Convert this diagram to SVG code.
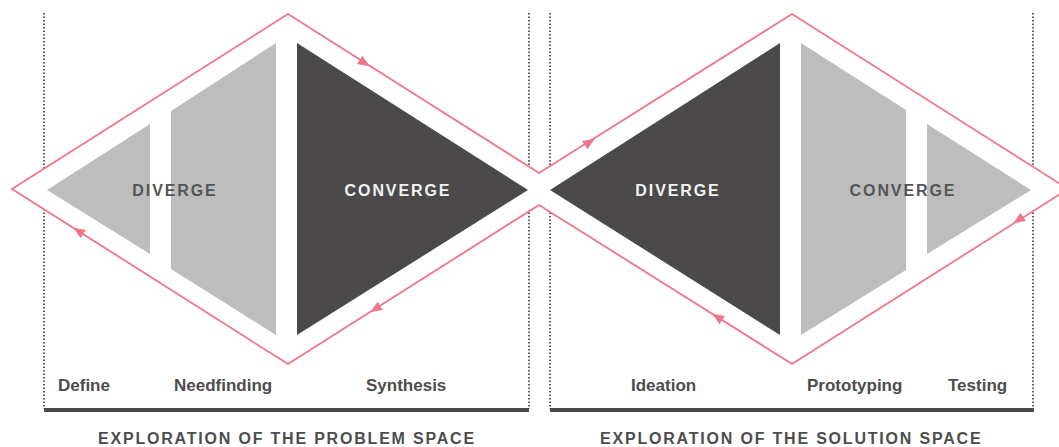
<svg xmlns="http://www.w3.org/2000/svg" width="1059" height="447" viewBox="0 0 1059 447">
<style>
.bg{fill:#ffffff}
.dot{stroke:#4f4f4f;stroke-width:1.8;stroke-dasharray:1.5 2;fill:none}
.bar{fill:#4a4a4a}
.outline{fill:#ffffff;stroke:#f0758a;stroke-width:1.8;stroke-linejoin:miter}
.light{fill:#bdbdbd}
.dark{fill:#4b4949}
.phase{font-family:"Liberation Sans",Arial,sans-serif;font-weight:bold;font-size:16px;letter-spacing:1.9px;text-anchor:middle}
.onlight{fill:#555555}
.ondark{fill:#f2f2f2}
.step{font-family:"Liberation Sans",Arial,sans-serif;font-weight:bold;font-size:17px;fill:#4d4d4d}
.head{font-family:"Liberation Sans",Arial,sans-serif;font-weight:bold;font-size:16px;letter-spacing:1.8px;fill:#4d4d4d}
.arrowline{stroke:none;fill:none}
</style>
<defs>
<marker id="arr" markerUnits="userSpaceOnUse" markerWidth="12" markerHeight="10" viewBox="0 0 12 10" refX="6" refY="5" orient="auto">
<path d="M0,0 L12,5 L0,10 z" fill="#f0758a"/>
</marker>
</defs>
<rect class="bg" x="0" y="0" width="1059" height="447"/>
<g id="guides">
<line class="dot" x1="44" y1="13" x2="44" y2="409"/>
<line class="dot" x1="529" y1="13" x2="529" y2="409"/>
<line class="dot" x1="550" y1="13" x2="550" y2="409"/>
<line class="dot" x1="1033" y1="13" x2="1033" y2="409"/>
</g>
<g id="connectors">
<polygon class="outline" points="12,189 288,14 539,173 792,14 1068,189 792,364 539,205 288,364"/>
<path class="arrowline" d="M361.3,60.9 L364.7,63.1" marker-end="url(#arr)"/>
<path class="arrowline" d="M586.3,144.1 L589.7,141.9" marker-end="url(#arr)"/>
<path class="arrowline" d="M1021.7,217.9 L1018.3,220.1" marker-end="url(#arr)"/>
<path class="arrowline" d="M720.7,319.1 L717.3,316.9" marker-end="url(#arr)"/>
<path class="arrowline" d="M378.7,306.9 L375.3,309.1" marker-end="url(#arr)"/>
<path class="arrowline" d="M81.7,233.1 L78.3,230.9" marker-end="url(#arr)"/>
</g>
<g id="define">
<polygon class="light" points="47,190 150,124 150,254"/>
<text class="step" x="58" y="391">Define</text>
</g>
<g id="needfinding">
<polygon class="light" points="171,111 276,43 276,335 171,269"/>
<text class="phase onlight" x="175" y="196">DIVERGE</text>
<text class="step" x="174" y="391">Needfinding</text>
</g>
<g id="synthesis">
<polygon class="dark" points="297,43 528,190 297,335"/>
<text class="phase ondark" x="398" y="196">CONVERGE</text>
<text class="step" x="366" y="391">Synthesis</text>
</g>
<g id="ideation">
<polygon class="dark" points="550,190 780,43 780,335"/>
<text class="phase ondark" x="678" y="196">DIVERGE</text>
<text class="step" x="631" y="391">Ideation</text>
</g>
<g id="testing">
<polygon class="light" points="927,124 1031,190 927,254"/>
<text class="step" x="948" y="391">Testing</text>
</g>
<g id="prototyping">
<polygon class="light" points="801,43 906,110 906,270 801,335"/>
<text class="phase onlight" x="903" y="196">CONVERGE</text>
<text class="step" x="807" y="391">Prototyping</text>
</g>
<g id="problem-space">
<rect class="bar" x="44" y="408" width="485" height="4"/>
<text class="head" x="98" y="444">EXPLORATION OF THE PROBLEM SPACE</text>
</g>
<g id="solution-space">
<rect class="bar" x="550" y="408" width="484" height="4"/>
<text class="head" x="600" y="444">EXPLORATION OF THE SOLUTION SPACE</text>
</g>
</svg>
